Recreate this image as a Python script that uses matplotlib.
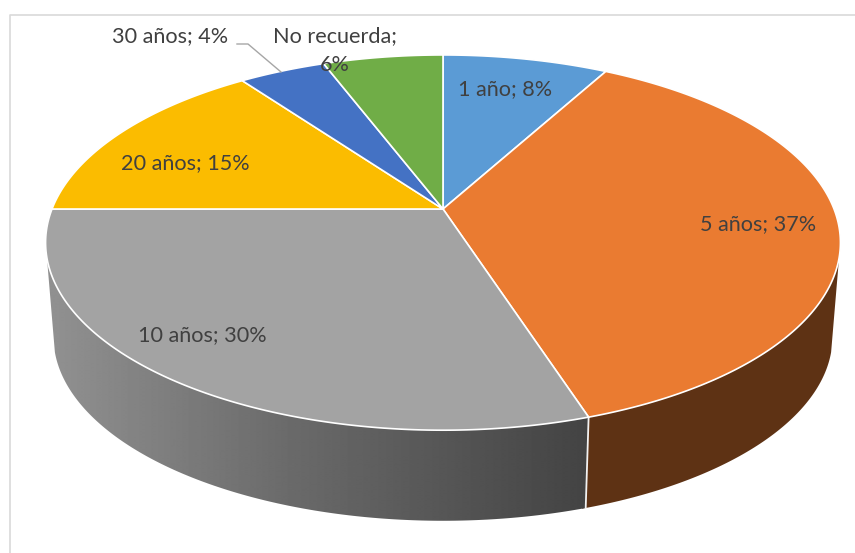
#!/usr/bin/env python3
"""3D-look pie chart: years since the event, share of answers."""

import numpy as np
import matplotlib
matplotlib.use("Agg")
import matplotlib.pyplot as plt
from matplotlib.patches import Polygon

categories = ["1 año", "5 años", "10 años", "20 años", "30 años", "No recuerda"]
values = [8, 37, 30, 15, 4.2, 5.8]
top_colors = ["#5B9BD5", "#EA7B31", "#A3A3A3", "#FBBC00", "#4472C4", "#70AD47"]
label_xy = [(505, 89), (758, 224), (202, 335), (185, 163), (170, 36)]

# ----------------------------- Projection -----------------------------

CX, CY = 443, 209
RX, RY = 391, 181.6
PERSP = 0.179
WALL_SCALE = 0.98
WALL_CY = 304
FONT = 15.6


def project(angle_deg, scale=1.0, cy=CY):
    """Map clockwise-from-top pie angles to pixels on the tilted disc."""
    t = np.radians(angle_deg)
    u, v = np.sin(t), np.cos(t)
    w = 1 + PERSP * v
    return np.column_stack([CX + scale * RX * u / w, cy - scale * RY * v / w])


def arc(a0, a1, scale=1.0, cy=CY):
    n = max(int(abs(a1 - a0) * 2), 2)
    return project(np.linspace(a0, a1, n), scale, cy)


def wall_outline(a0, a1):
    return np.vstack([arc(a0, a1), arc(a1, a0, WALL_SCALE, WALL_CY)])


fig = plt.figure(figsize=(8.55, 5.53), dpi=100)
ax = fig.add_axes([0, 0, 1, 1])

plt.rcParams["font.family"] = ["Lato", "DejaVu Sans"]

# chart frame
ax.plot([9.5, 9.5, 855], [553, 14.5, 14.5], color="#D9D9D9", lw=1.2, zorder=1)

edges = np.concatenate([[0], np.cumsum(values)]) * 360 / sum(values)

# ----------------------------- Side wall -----------------------------

ax.add_patch(Polygon(wall_outline(105, edges[2] + 0.5), closed=True,
                     facecolor="#5E3214", edgecolor="none", zorder=2))

# grey side darkens from left to right
xs = np.arange(40, 600)
levels = np.interp(xs, [55, 290, 590], [0x90, 0x6A, 0x43]) / 255
gradient = np.tile(levels, (2, 1))
grey_clip = Polygon(wall_outline(edges[2], 255), closed=True,
                    facecolor="none", edgecolor="none", zorder=2)
ax.add_patch(grey_clip)
im = ax.imshow(gradient, extent=[40, 600, 540, 200], aspect="auto",
               cmap="gray", vmin=0, vmax=1, zorder=2, interpolation="bilinear")
im.set_clip_path(grey_clip)

# white seam where the orange and grey walls meet
seam = np.vstack([project(np.array([edges[2]])),
                  project(np.array([edges[2]]), WALL_SCALE, WALL_CY)])
ax.plot(seam[:, 0], seam[:, 1], color="#F2F2F2", lw=1.3, zorder=3)

# ----------------------------- Top face -----------------------------

for i, color in enumerate(top_colors):
    outline = np.vstack([[CX, CY], arc(edges[i], edges[i + 1])])
    ax.add_patch(Polygon(outline, closed=True, facecolor=color, edgecolor="white",
                         lw=1.2, joinstyle="round", zorder=4))

# ----------------------------- Labels -----------------------------

for (x, y), cat, val in zip(label_xy, categories, values):
    ax.text(x, y, f"{cat}; {round(val)}%", ha="center", va="center",
            fontsize=FONT, color="#404040", zorder=6)

ax.text(335, 36, f"{categories[5]};", ha="center", va="center",
        fontsize=FONT, color="#404040", zorder=6)
ax.text(335, 65, f"{round(values[5])}%", ha="center", va="center",
        fontsize=FONT, color="#404040", zorder=6)

# leader line for the small slice
ax.plot([237, 248, 281], [44, 44, 72], color="#A6A6A6", lw=1.0, zorder=5)

ax.set_xlim(0, 855)
ax.set_ylim(553, 0)
ax.axis("off")

fig.savefig("out.png", dpi=100)
